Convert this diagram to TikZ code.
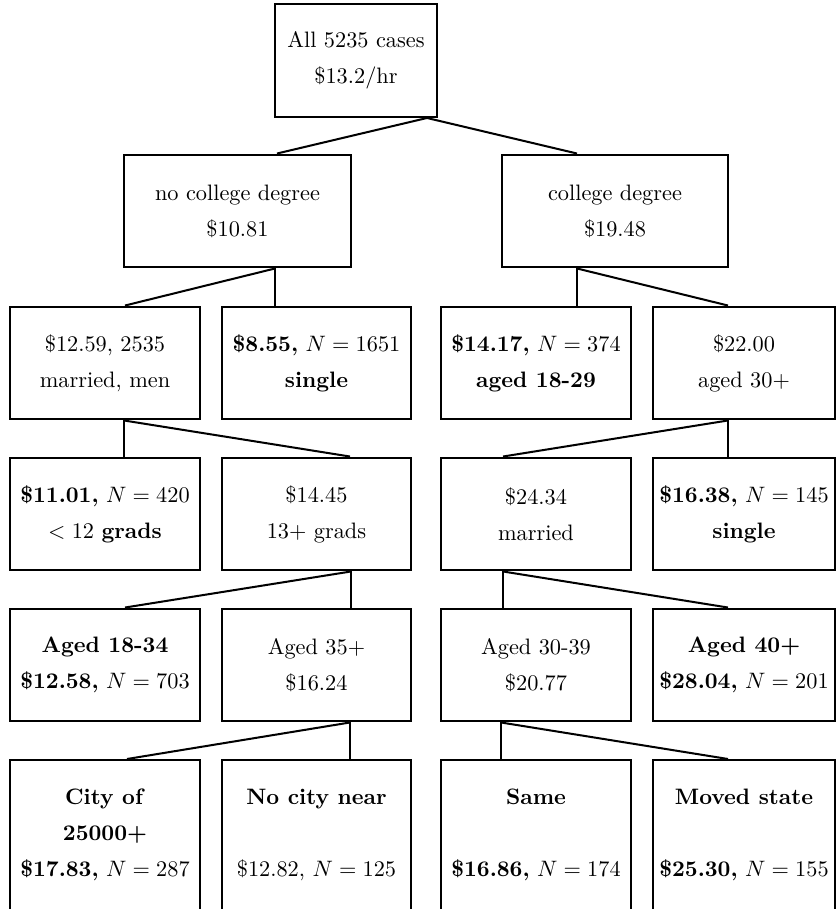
\documentclass[tikz,border=0pt]{standalone}
\usepackage{tikz}
\usepackage{amsmath}
\usetikzlibrary{calc}

\begin{document}
\begin{tikzpicture}[
    x=0.448pt, y=-0.448pt,
    box/.style={rectangle, draw, line width=0.9pt, minimum width=85.1pt, minimum height=50.6pt, inner sep=1pt, align=center, font=\fontsize{10}{16.1}\selectfont},
    wide/.style={box, minimum width=101.5pt},
    edgebox/.style={box, minimum width=81.5pt},
    leaf/.style={box, minimum height=67.2pt},
    link/.style={line width=0.9pt}
]
    \path[use as bounding box, clip] (0,0) rectangle (836,909);

    \node[box, minimum width=72.6pt] (all) at (356,60.5) {All 5235 cases\\\$13.2/hr};

    \node[wide] (nodeg) at (237.5,211) {no college degree\\\$10.81};
    \node[wide] (deg) at (615,211) {college degree\\\$19.48};

    \node[box] (marmen) at (105,363) {\$12.59, 2535\\married, men};
    \node[box] (single) at (316.5,363) {\textbf{\$8.55,} $N = 1651$\\\textbf{single}};
    \node[box] (young) at (536,363) {\textbf{\$14.17,} $N = 374$\\\textbf{aged 18-29}};
    \node[edgebox] (older) at (744,363) {\$22.00\\aged 30+};

    \node[box] (lowgrad) at (105,514) {\textbf{\$11.01,} $N = 420$\\$<12$ \textbf{grads}};
    \node[box] (highgrad) at (316.5,514) {\$14.45\\13+ grads};
    \node[box] (married) at (536,514) {\$24.34\\married};
    \node[edgebox] (olsingle) at (744,514) {\textbf{\$16.38,} $N = 145$\\\textbf{single}};

    \node[box] (young34) at (105,665) {\textbf{Aged 18-34}\\\textbf{\$12.58,} $N = 703$};
    \node[box] (aged35) at (316.5,665) {Aged 35+\\\$16.24};
    \node[box] (aged3039) at (536,665) {Aged 30-39\\\$20.77};
    \node[edgebox] (aged40) at (744,665) {\textbf{Aged 40+}\\\textbf{\$28.04,} $N = 201$};

    \node[leaf] (city) at (105,835) {\textbf{City of}\\\textbf{25000+}\\\textbf{\$17.83,} $N = 287$};
    \node[leaf] (nocity) at (316.5,835) {\textbf{No city near}\\~\\\$12.82, $N = 125$};
    \node[leaf] (same) at (536,835) {\textbf{Same}\\~\\\textbf{\$16.86,} $N = 174$};
    \node[leaf, minimum width=81.5pt] (moved) at (744,835) {\textbf{Moved state}\\~\\\textbf{\$25.30,} $N = 155$};

    \draw[link] ($(all.south)+(71,0)$) -- ($(nodeg.north)+(39.5,0)$);
    \draw[link] ($(all.south)+(71,0)$) -- ($(deg.north)+(-38,0)$);

    \draw[link] ($(nodeg.south)+(37.5,0)$) -- ($(marmen.north)+(20,0)$);
    \draw[link] ($(nodeg.south)+(37.5,0)$) -- ($(single.north)+(-41.5,0)$);
    \draw[link] ($(deg.south)+(-38,0)$) -- ($(young.north)+(41,0)$);
    \draw[link] ($(deg.south)+(-38,0)$) -- ($(older.north)+(-16,0)$);

    \draw[link] ($(marmen.south)+(19,0)$) -- ($(lowgrad.north)+(19,0)$);
    \draw[link] ($(marmen.south)+(19,0)$) -- ($(highgrad.north)+(33.5,0)$);
    \draw[link] ($(older.south)+(-16,0)$) -- ($(married.north)+(-33,0)$);
    \draw[link] ($(older.south)+(-16,0)$) -- ($(olsingle.north)+(-16,0)$);

    \draw[link] ($(highgrad.south)+(34.5,0)$) -- ($(young34.north)+(20,0)$);
    \draw[link] ($(highgrad.south)+(34.5,0)$) -- ($(aged35.north)+(34.5,0)$);
    \draw[link] ($(married.south)+(-33,0)$) -- ($(aged3039.north)+(-33,0)$);
    \draw[link] ($(married.south)+(-33,0)$) -- ($(aged40.north)+(-16,0)$);

    \draw[link] ($(aged35.south)+(33.5,0)$) -- ($(city.north)+(22,0)$);
    \draw[link] ($(aged35.south)+(33.5,0)$) -- ($(nocity.north)+(33.5,0)$);
    \draw[link] ($(aged3039.south)+(-35,0)$) -- ($(same.north)+(-35,0)$);
    \draw[link] ($(aged3039.south)+(-35,0)$) -- ($(moved.north)+(-16,0)$);
\end{tikzpicture}
\end{document}
